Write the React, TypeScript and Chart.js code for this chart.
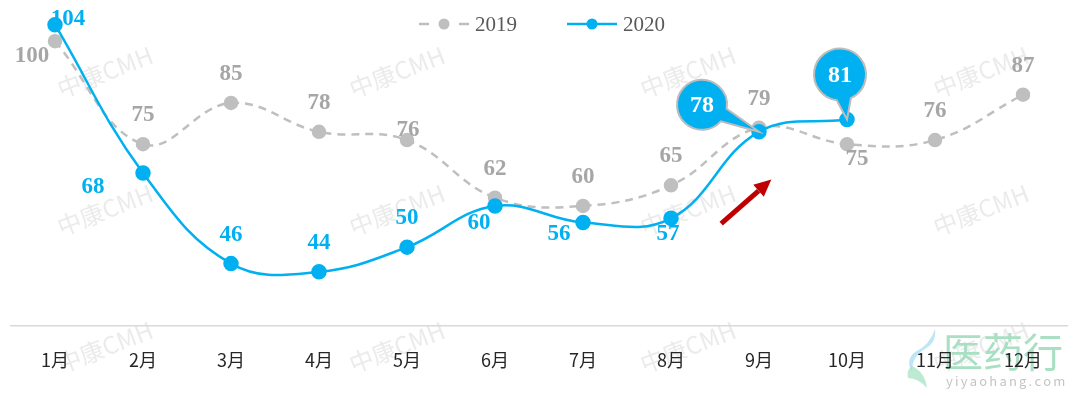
import { useEffect, useRef } from 'react';
import { Chart, registerables } from 'chart.js';

Chart.register(...registerables);

// ---- data ----
const MONTHS = ['1月', '2月', '3月', '4月', '5月', '6月', '7月', '8月', '9月', '10月', '11月', '12月'];
const SERIES_2019 = [100, 75, 85, 78, 76, 62, 60, 65, 79, 75, 76, 87];
const SERIES_2020 = [104, 68, 46, 44, 50, 60, 56, 57, 78, 81];
const LABEL_2019 = '2019';
const LABEL_2020 = '2020';
// where each value label sits relative to its point
const PLACES_2019 = ['leftBelow', 'above', 'above', 'above', 'aboveNear', 'above', 'above', 'above', 'above', 'rightBelow', 'above', 'above'];
const PLACES_2020 = ['rightAbove', 'farLeftBelow', 'above', 'above', 'above', 'leftBelowNear', 'leftBelow2', 'below', 'bubbleLeft', 'bubbleUp'];
const WATERMARK = '中康CMH';
const Y_MIN = 31;
const Y_MAX = 110;
// red trend arrow, in data space (category index, value)
const ARROW_FROM = [7.57, 55.7];
const ARROW_TO = [8.14, 66.4];

// ---- styles ----
const BLUE = '#00B0F0';
const GRAY = '#BFBFBF';
const GRAY_TEXT = '#A6A6A6';
const SERIF = '"Liberation Serif", "Times New Roman", serif';
const SANS = '"Noto Sans CJK SC", "Noto Sans", sans-serif';

const PLACE_STYLE: Record<string, any> = {
  above: { dx: 0, dy: -29 },
  aboveNear: { dx: 1, dy: -10 },
  leftBelow: { dx: -23, dy: 15 },
  rightBelow: { dx: 10, dy: 15 },
  rightAbove: { dx: 13, dy: -6 },
  farLeftBelow: { dx: -50, dy: 14 },
  leftBelowNear: { dx: -16, dy: 17 },
  leftBelow2: { dx: -24, dy: 12 },
  below: { dx: -3, dy: 16 },
  bubbleLeft: { bubble: true, dx: -57, dy: -27, r: 25 },
  bubbleUp: { bubble: true, dx: -7, dy: -45, r: 26 },
};

const WM_COLS = [105, 397, 688, 981];
const WM_ROWS = [72, 210, 347];

const backdropPlugin = {
  id: 'backdrop',
  beforeDraw(chart: any) {
    const ctx = chart.ctx;
    ctx.save();
    // watermarks
    ctx.font = `24px ${SANS}`;
    ctx.fillStyle = '#EBEBEB';
    ctx.textAlign = 'center';
    ctx.textBaseline = 'middle';
    for (const y of WM_ROWS) {
      for (const x of WM_COLS) {
        ctx.save();
        ctx.translate(x, y);
        ctx.rotate((-21 * Math.PI) / 180);
        ctx.fillText(WATERMARK, 0, 0);
        ctx.restore();
      }
    }
    // logo
    ctx.globalAlpha = 0.75;
    ctx.fillStyle = '#A9DDF3';
    ctx.beginPath();
    ctx.moveTo(935, 329);
    ctx.quadraticCurveTo(930, 345, 915, 352);
    ctx.quadraticCurveTo(905, 360, 912, 372);
    ctx.quadraticCurveTo(912, 356, 925, 349);
    ctx.quadraticCurveTo(937, 342, 935, 329);
    ctx.fill();
    ctx.fillStyle = '#A6E3C4';
    ctx.beginPath();
    ctx.moveTo(912, 366);
    ctx.quadraticCurveTo(925, 372, 927, 388);
    ctx.quadraticCurveTo(918, 378, 908, 378);
    ctx.quadraticCurveTo(906, 370, 912, 366);
    ctx.fill();
    ctx.globalAlpha = 1;
    ctx.fillStyle = '#A9E0C4';
    ctx.font = `40px ${SANS}`;
    ctx.textAlign = 'left';
    ctx.textBaseline = 'middle';
    ctx.fillText('医药行', 943, 352);
    ctx.fillStyle = '#C4C4C4';
    ctx.font = `13px ${SANS}`;
    const site = 'yiyaohang.com';
    let sx = 946;
    for (const ch of site) {
      ctx.fillText(ch, sx, 381);
      sx += ctx.measureText(ch).width + 2.2;
    }
    ctx.restore();
  },
};

function drawBubble(ctx: any, px: number, py: number, cx: number, cy: number, r: number, text: string) {
  const a = Math.atan2(py - cy, px - cx);
  const w = 0.28;
  ctx.save();
  ctx.beginPath();
  ctx.arc(cx, cy, r, a + w, a - w + Math.PI * 2, false);
  ctx.lineTo(px, py);
  ctx.closePath();
  ctx.fillStyle = BLUE;
  ctx.fill();
  ctx.lineWidth = 2;
  ctx.strokeStyle = '#BDBDBD';
  ctx.stroke();
  ctx.fillStyle = '#FFFFFF';
  ctx.font = `bold 24px ${SERIF}`;
  ctx.textAlign = 'center';
  ctx.textBaseline = 'middle';
  ctx.fillText(text, cx, cy + 1);
  ctx.restore();
}

const labelPlugin = {
  id: 'valueLabels',
  afterDatasetsDraw(chart: any) {
    const ctx = chart.ctx;
    // trend arrow
    const xs = chart.scales.x;
    const ys = chart.scales.y;
    const x0 = xs.getPixelForValue(ARROW_FROM[0]);
    const y0 = ys.getPixelForValue(ARROW_FROM[1]);
    const x1 = xs.getPixelForValue(ARROW_TO[0]);
    const y1 = ys.getPixelForValue(ARROW_TO[1]);
    const ang = Math.atan2(y1 - y0, x1 - x0);
    const head = 17;
    const hx = x1 - head * Math.cos(ang);
    const hy = y1 - head * Math.sin(ang);
    ctx.save();
    ctx.strokeStyle = '#C00000';
    ctx.fillStyle = '#C00000';
    ctx.lineWidth = 5;
    ctx.beginPath();
    ctx.moveTo(x0, y0);
    ctx.lineTo(hx, hy);
    ctx.stroke();
    ctx.beginPath();
    ctx.moveTo(x1, y1);
    ctx.lineTo(hx + 8 * Math.sin(ang), hy - 8 * Math.cos(ang));
    ctx.lineTo(hx - 8 * Math.sin(ang), hy + 8 * Math.cos(ang));
    ctx.closePath();
    ctx.fill();
    ctx.restore();

    chart.data.datasets.forEach((ds: any, di: number) => {
      const meta = chart.getDatasetMeta(di);
      meta.data.forEach((pt: any, i: number) => {
        const v = ds.data[i];
        if (v == null) return;
        const st = PLACE_STYLE[ds.labelPlaces[i]];
        if (st.bubble) {
          drawBubble(ctx, pt.x, pt.y, pt.x + st.dx, pt.y + st.dy, st.r, String(v));
          return;
        }
        ctx.save();
        ctx.font = `bold 23px ${SERIF}`;
        ctx.fillStyle = ds.labelColor;
        ctx.textAlign = 'center';
        ctx.textBaseline = 'middle';
        ctx.fillText(String(v), pt.x + st.dx, pt.y + st.dy);
        ctx.restore();
      });
    });
  },
  afterDraw(chart: any) {
    // custom legend
    const ctx = chart.ctx;
    ctx.save();
    ctx.font = `21px ${SERIF}`;
    ctx.textBaseline = 'middle';
    ctx.textAlign = 'left';
    const items = [chart.data.datasets[1], chart.data.datasets[0]];
    const lineW = 50;
    const gapText = 6;
    const gapItem = 50;
    const widths = items.map((d: any) => ctx.measureText(d.label).width);
    const total = widths.reduce((s: number, w: number) => s + lineW + gapText + w, 0) + gapItem;
    let x = (chart.width - total) / 2 + 2;
    const y = 24;
    items.forEach((d: any, k: number) => {
      ctx.strokeStyle = d.borderColor;
      ctx.lineWidth = 2.5;
      if (d.borderDash && d.borderDash.length) {
        ctx.beginPath();
        ctx.moveTo(x, y);
        ctx.lineTo(x + 10, y);
        ctx.moveTo(x + lineW - 10, y);
        ctx.lineTo(x + lineW, y);
        ctx.stroke();
      } else {
        ctx.beginPath();
        ctx.moveTo(x, y);
        ctx.lineTo(x + lineW, y);
        ctx.stroke();
      }
      ctx.fillStyle = d.pointBackgroundColor;
      ctx.beginPath();
      ctx.arc(x + lineW / 2, y, 5.5, 0, Math.PI * 2);
      ctx.fill();
      ctx.fillStyle = '#595959';
      ctx.fillText(d.label, x + lineW + gapText, y + 1);
      x += lineW + gapText + widths[k] + gapItem;
    });
    ctx.restore();
  },
};

export default function App() {
  const ref = useRef<HTMLCanvasElement | null>(null);
  useEffect(() => {
    document.body.style.margin = '0';
    if (!ref.current) return;
    const chart = new Chart(ref.current, {
      type: 'line',
      data: {
        labels: MONTHS,
        datasets: [
          {
            label: LABEL_2020,
            data: SERIES_2020,
            borderColor: BLUE,
            backgroundColor: BLUE,
            pointBackgroundColor: BLUE,
            pointBorderColor: BLUE,
            pointRadius: 6.5,
            borderWidth: 2.5,
            tension: 0.4,
            order: 0,
            labelPlaces: PLACES_2020,
            labelColor: BLUE,
          } as any,
          {
            label: LABEL_2019,
            data: SERIES_2019,
            borderColor: GRAY,
            backgroundColor: GRAY,
            pointBackgroundColor: GRAY,
            pointBorderColor: GRAY,
            pointRadius: 6,
            borderWidth: 2.5,
            borderDash: [8, 6],
            tension: 0.4,
            order: 1,
            labelPlaces: PLACES_2019,
            labelColor: GRAY_TEXT,
          } as any,
        ],
      },
      options: {
        animation: false,
        responsive: true,
        maintainAspectRatio: false,
        layout: { autoPadding: false, padding: { left: 11, right: 13, top: 0, bottom: 3 } },
        plugins: { legend: { display: false }, tooltip: { enabled: false } },
        scales: {
          x: {
            offset: true,
            grid: { display: false, drawTicks: false },
            border: { display: true, color: '#D9D9D9', width: 1.5 },
            ticks: { color: '#262626', font: { family: SANS, size: 18 }, padding: 24 },
          },
          y: {
            display: false,
            min: Y_MIN,
            max: Y_MAX,
          },
        },
      },
      plugins: [backdropPlugin, labelPlugin],
    });
    return () => chart.destroy();
  }, []);
  return (
    <div style={{ position: 'absolute', left: 0, top: 0, width: 1080, height: 398 }}>
      <canvas ref={ref} />
    </div>
  );
}
